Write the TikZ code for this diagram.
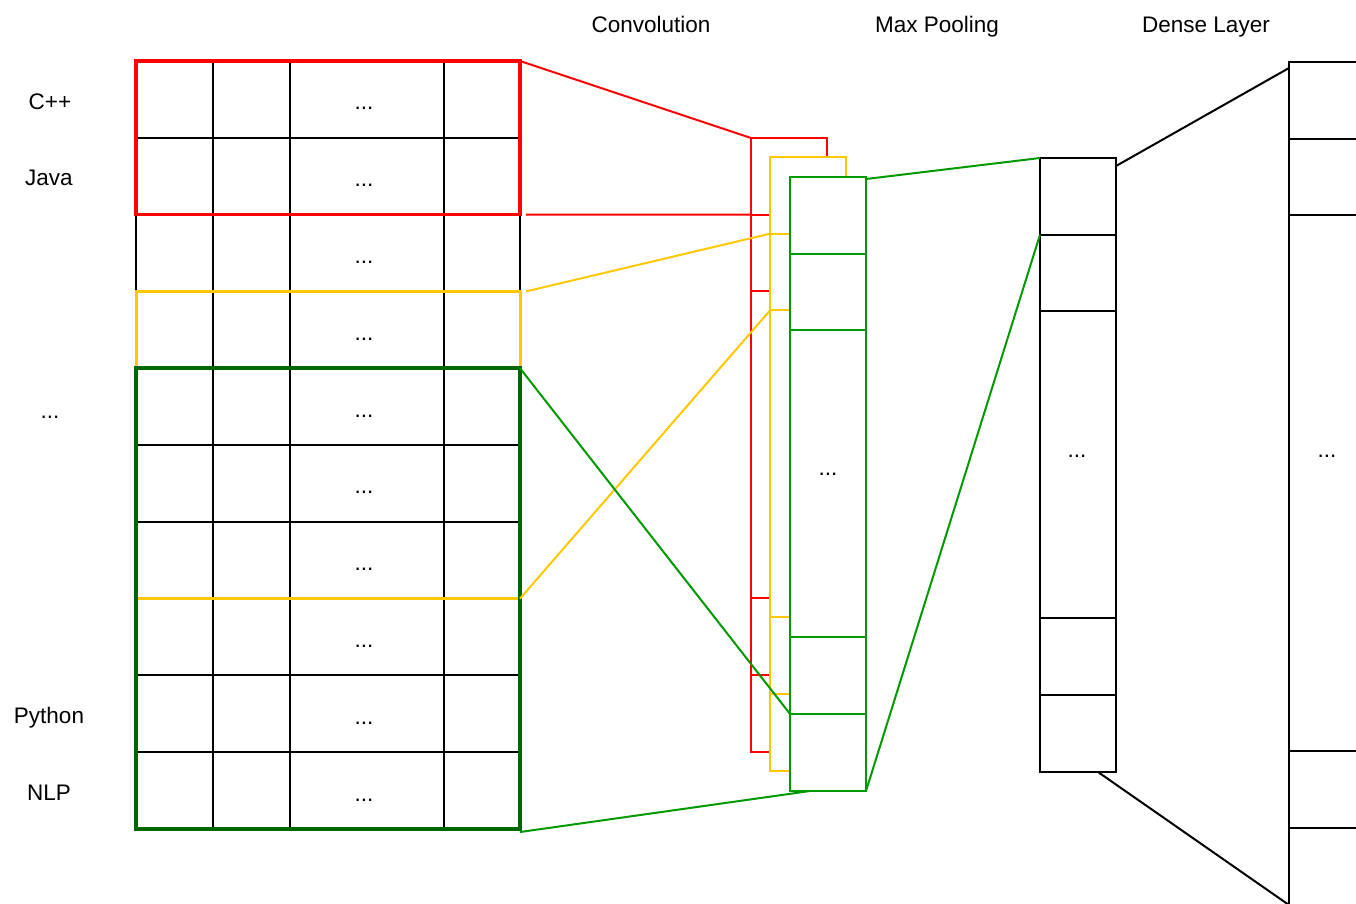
\documentclass[tikz,border=0pt]{standalone}
\usepackage{fontspec}
\setmainfont{Liberation Sans}
\usetikzlibrary{positioning}
\usetikzlibrary{calc}
\definecolor{winred}{RGB}{255,0,0}
\definecolor{winyellow}{RGB}{255,200,0}
\definecolor{windarkgreen}{RGB}{0,102,0}
\definecolor{linkgreen}{RGB}{0,153,0}

\tikzset{
  txt/.style={font=\fontsize{22.5}{27}\selectfont},
  gridline/.style={line width=2pt},
  win/.style={rectangle, minimum width=384pt, inner sep=0, outer sep=0, anchor=north west},
  col/.style={rectangle, fill=white, line width=2pt, minimum width=76pt, minimum height=614pt, inner sep=0, outer sep=0, anchor=north west},
  link/.style={line width=2pt},
}

% feature column: name, x, y, colour
\newcommand{\featcol}[4]{%
  \node[col, draw=#4] (#1) at (#2,#3) {};
  \foreach \k in {1,2,6,7}{
    \coordinate (#1-\k) at ($(#1.north west)+(0,\k*76.7)$);
    \draw[#4, line width=2pt] (#1-\k) -- ($(#1.north east)+(0,\k*76.7)$);
  }
}

\begin{document}
\begin{tikzpicture}[x=1pt, y=-1pt]
\useasboundingbox (0,0) rectangle (1356,903);
\clip (0,0) rectangle (1356,903);

%---------------------------------------
% Titles
%---------------------------------------
\node[txt, anchor=base] (convtitle) at (651,32) {Convolution};
\node[txt, anchor=base] (pooltitle) at (937,32) {Max Pooling};
\node[txt, anchor=base] (densetitle) at (1206,32) {Dense Layer};

%---------------------------------------
% Row labels
%---------------------------------------
\node[txt, anchor=base] (lcpp) at (50,109) {C++};
\node[txt, anchor=base] (ljava) at (49,185) {Java};
\node[txt, anchor=base] (ldots) at (50,418) {...};
\node[txt, anchor=base] (lpython) at (49,723) {Python};
\node[txt, anchor=base] (lnlp) at (49,800) {NLP};

%====================================================
% Embedding table
%====================================================
\node[win, draw, line width=2pt, minimum height=768pt] (table) at (136,61) {};
\foreach \x in {213,290,444}
  \draw[gridline] (\x,61) -- (\x,829);
\foreach \r in {1,...,9}
  \draw[gridline] (136,61+\r*76.8) -- (520,61+\r*76.8);
\foreach \r in {1,...,10}
  \node[txt, anchor=base] at (364,61+\r*76.8-28) {...};

% Filter windows
\node[win, draw=winyellow, line width=3pt, minimum height=307.2pt] (yellowwin) at (136,291.4) {};
\node[win, draw=windarkgreen, line width=3.5pt, minimum height=460.8pt] (greenwin) at (136,368.2) {};
\node[win, draw=winred, line width=3.5pt, minimum height=153.6pt] (redwin) at (136,61) {};

%====================================================
% Convolution, pooling, dense
%====================================================
\featcol{conv1}{751}{138}{winred}
\featcol{conv2}{770}{157}{winyellow}
\featcol{conv3}{790}{177}{linkgreen}
\node[txt, anchor=base] (convdots) at (828,475) {...};

\featcol{pool}{1040}{158}{black}
\node[txt, anchor=base] (pooldots) at (1077,457) {...};

\node[rectangle, draw, line width=2pt, minimum width=77pt, minimum height=843pt, inner sep=0, outer sep=0, anchor=north west] (dense) at (1289,62) {};
\foreach \k in {1,2,9,10}
  \draw[line width=2pt] ($(dense.north west)+(0,\k*76.6)$) -- ($(dense.north east)+(0,\k*76.6)$);
\node[txt, anchor=base] (densedots) at (1327,457) {...};

%---------------------------------------
% Connections
%---------------------------------------
\draw[link, winred] (redwin.north east) -- (conv1.north west);
\draw[link, winred] ([xshift=6pt]redwin.south east) -- (conv1-1);
\draw[link, winyellow] ([xshift=6pt]yellowwin.north east) -- (conv2-1);
\draw[link, winyellow] (yellowwin.south east) -- (conv2-2);
\draw[link, linkgreen] (greenwin.north east) -- (conv3-7);
\draw[link, linkgreen] ([yshift=-3pt]greenwin.south east) -- ([xshift=20pt]conv3.south west);
\draw[link, linkgreen] ([yshift=-2pt]conv3.north east) -- (pool.north west);
\draw[link, linkgreen] (conv3.south east) -- (pool-1);
\draw[link] ([yshift=-8pt]pool.north east) -- ([yshift=-6pt]dense.north west);
\draw[link] ([xshift=20pt]pool.south) -- (dense.south west);

\end{tikzpicture}
\end{document}
